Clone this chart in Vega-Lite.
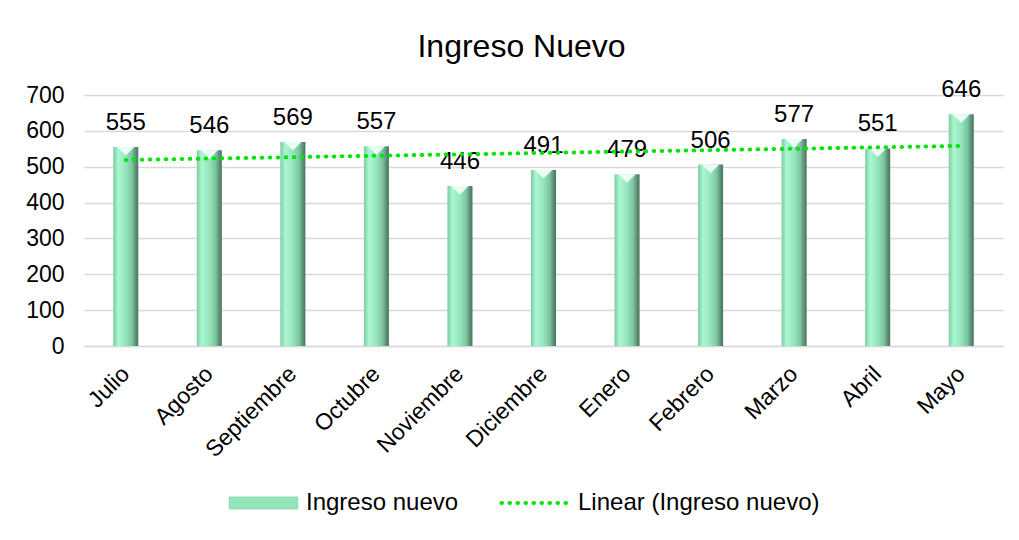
{
  "$schema": "https://vega.github.io/schema/vega-lite/v6.json",
  "autosize": {"type": "none"},
  "width": 919,
  "height": 251,
  "padding": {"left": 84, "top": 95, "right": 16, "bottom": 194},
  "background": "white",
  "title": {
    "text": "Ingreso Nuevo",
    "anchor": "middle",
    "frame": "group",
    "dx": -22,
    "offset": 14,
    "font": "Liberation Sans",
    "fontSize": 32,
    "fontWeight": "normal",
    "color": "#000000"
  },
  "data": {
    "values": [
      {"mes": "Julio", "ingreso": 555, "tendencia": 518.9},
      {"mes": "Agosto", "ingreso": 546, "tendencia": 522.8},
      {"mes": "Septiembre", "ingreso": 569, "tendencia": 526.7},
      {"mes": "Octubre", "ingreso": 557, "tendencia": 530.6},
      {"mes": "Noviembre", "ingreso": 446, "tendencia": 534.5},
      {"mes": "Diciembre", "ingreso": 491, "tendencia": 538.5},
      {"mes": "Enero", "ingreso": 479, "tendencia": 542.4},
      {"mes": "Febrero", "ingreso": 506, "tendencia": 546.3},
      {"mes": "Marzo", "ingreso": 577, "tendencia": 550.2},
      {"mes": "Abril", "ingreso": 551, "tendencia": 554.1},
      {"mes": "Mayo", "ingreso": 646, "tendencia": 558.0}
    ]
  },
  "encoding": {
    "x": {
      "field": "mes",
      "type": "nominal",
      "sort": null,
      "scale": {"paddingInner": 0.7, "paddingOuter": 0.35},
      "axis": {
        "title": null,
        "labelAngle": -45,
        "labelAlign": "right",
        "labelBaseline": "middle",
        "labelPadding": 24,
        "labelFont": "Liberation Sans",
        "labelFontSize": 23,
        "labelColor": "#000000",
        "labelOverlap": false,
        "ticks": false,
        "domainColor": "#d9d9d9",
        "domainWidth": 1.5,
        "grid": false
      }
    }
  },
  "layer": [
    {
      "mark": {
        "type": "bar",
        "fill": {
          "gradient": "linear",
          "x1": 0, "y1": 0, "x2": 1, "y2": 0,
          "stops": [
            {"offset": 0, "color": "#7ccba2"},
            {"offset": 0.2, "color": "#aaf7d2"},
            {"offset": 0.5, "color": "#95e5bc"},
            {"offset": 0.75, "color": "#7cc49f"},
            {"offset": 0.9, "color": "#5a8e73"},
            {"offset": 1, "color": "#4a7560"}
          ]
        }
      },
      "encoding": {
        "y": {
          "field": "ingreso",
          "type": "quantitative",
          "scale": {"domain": [0, 700], "nice": false},
          "axis": {
            "title": null,
            "values": [0, 100, 200, 300, 400, 500, 600, 700],
            "labelOverlap": false,
            "labelFont": "Liberation Sans",
            "labelFontSize": 23,
            "labelColor": "#000000",
            "labelPadding": 20,
            "ticks": false,
            "domain": false,
            "gridColor": "#d9d9d9",
            "gridWidth": 1.5
          }
        }
      }
    },
    {
      "mark": {
        "type": "point",
        "shape": "M-1,-0.5L1,-0.5L0,0.5Z",
        "size": 300,
        "filled": true,
        "fill": "#f4fffa",
        "opacity": 0.9,
        "yOffset": 4.3
      },
      "encoding": {
        "y": {
          "field": "ingreso",
          "type": "quantitative",
          "scale": {"domain": [0, 700], "nice": false},
          "axis": {
            "title": null,
            "values": [0, 100, 200, 300, 400, 500, 600, 700],
            "labelOverlap": false,
            "labelFont": "Liberation Sans",
            "labelFontSize": 23,
            "labelColor": "#000000",
            "labelPadding": 20,
            "ticks": false,
            "domain": false,
            "gridColor": "#d9d9d9",
            "gridWidth": 1.5
          }
        }
      }
    },
    {
      "mark": {
        "type": "text",
        "baseline": "alphabetic",
        "dy": -17,
        "font": "Liberation Sans",
        "fontSize": 24,
        "color": "#000000"
      },
      "encoding": {
        "y": {
          "field": "ingreso",
          "type": "quantitative",
          "scale": {"domain": [0, 700], "nice": false},
          "axis": {
            "title": null,
            "values": [0, 100, 200, 300, 400, 500, 600, 700],
            "labelOverlap": false,
            "labelFont": "Liberation Sans",
            "labelFontSize": 23,
            "labelColor": "#000000",
            "labelPadding": 20,
            "ticks": false,
            "domain": false,
            "gridColor": "#d9d9d9",
            "gridWidth": 1.5
          }
        },
        "text": {"field": "ingreso", "type": "quantitative"}
      }
    },
    {
      "mark": {
        "type": "line",
        "strokeWidth": 4,
        "strokeDash": [0.5, 7.5],
        "strokeCap": "round"
      },
      "encoding": {
        "y": {
          "field": "tendencia",
          "type": "quantitative",
          "scale": {"domain": [0, 700], "nice": false},
          "axis": {
            "title": null,
            "values": [0, 100, 200, 300, 400, 500, 600, 700],
            "labelOverlap": false,
            "labelFont": "Liberation Sans",
            "labelFontSize": 23,
            "labelColor": "#000000",
            "labelPadding": 20,
            "ticks": false,
            "domain": false,
            "gridColor": "#d9d9d9",
            "gridWidth": 1.5
          }
        },
        "color": {
          "datum": "Linear (Ingreso nuevo)",
          "scale": {
            "domain": ["Ingreso nuevo", "Linear (Ingreso nuevo)"],
            "range": ["#8fe0b7", "#00e600"]
          },
          "legend": {
            "title": null,
            "orient": "none",
            "legendX": 167.5,
            "legendY": 396,
            "direction": "horizontal",
            "gridAlign": "each",
            "padding": 0,
            "columnPadding": 35,
            "labelFont": "Liberation Sans",
            "labelFontSize": 24,
            "labelColor": "#000000",
            "labelOffset": 30.5,
            "labelLimit": 400,
            "symbolSize": 4624,
            "encode": {
              "symbols": {
                "update": {
                  "shape": {"signal": "datum.value === 'Ingreso nuevo' ? 'M-1,-0.17H1V0.17H-1Z' : 'stroke'"},
                  "fill": {"signal": "datum.value === 'Ingreso nuevo' ? '#95e5bc' : 'transparent'"},
                  "stroke": {"signal": "datum.value === 'Ingreso nuevo' ? '#5a8e73' : '#00e600'"},
                  "strokeWidth": {"signal": "datum.value === 'Ingreso nuevo' ? 1.5 : 4"},
                  "strokeDash": {"signal": "datum.value === 'Ingreso nuevo' ? [1, 0] : [0.5, 7.5]"},
                  "strokeCap": {"value": "round"}
                }
              }
            }
          }
        }
      }
    }
  ],
  "config": {
    "view": {"stroke": null}
  }
}
